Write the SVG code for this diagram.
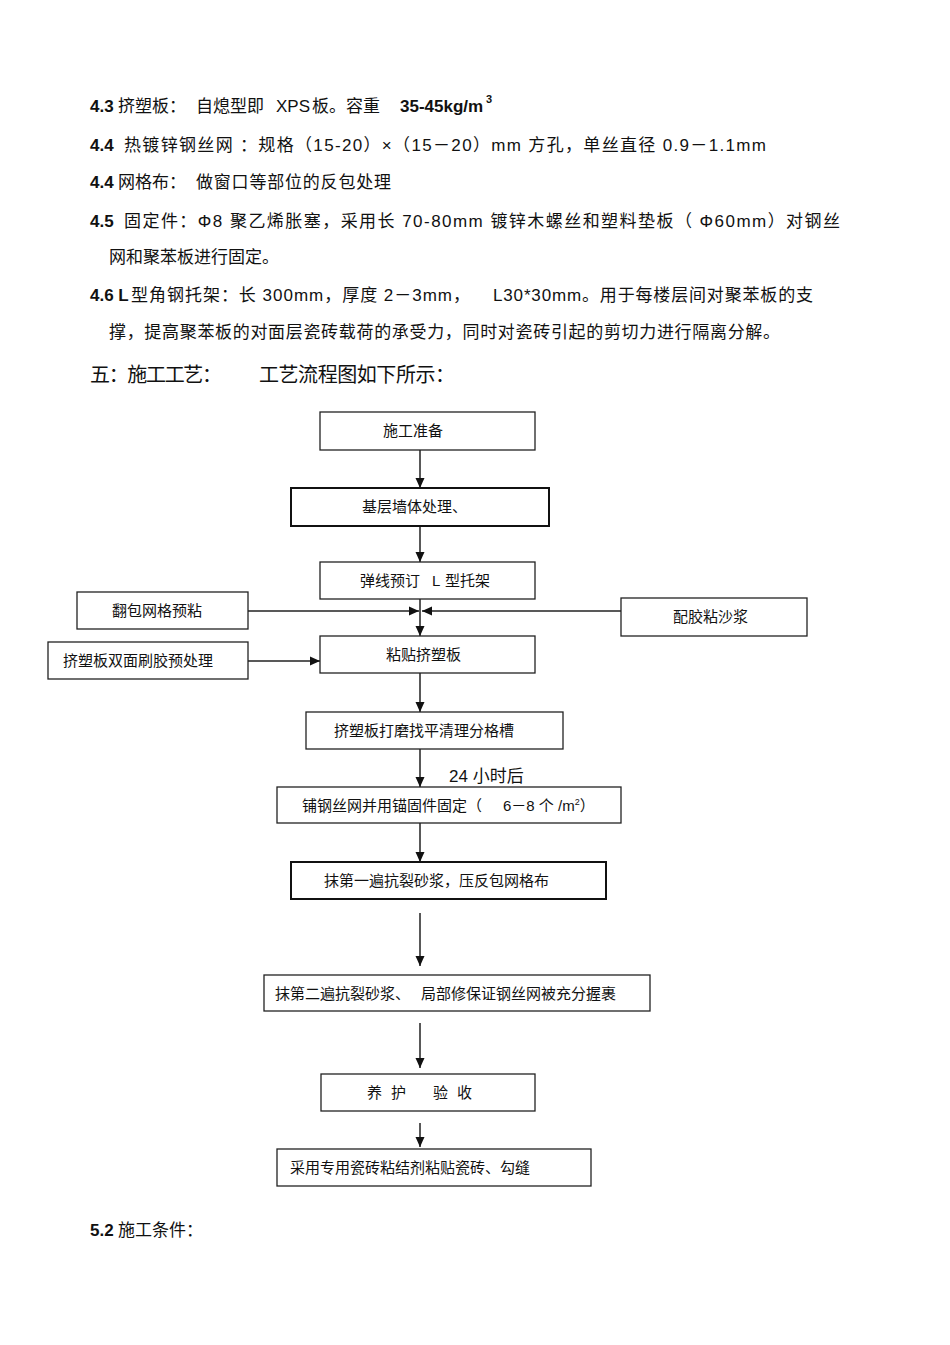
<svg xmlns="http://www.w3.org/2000/svg" width="950" height="1345" viewBox="0 0 950 1345">
<style>
.t{font-family:"Liberation Sans","Noto Sans CJK SC",sans-serif;font-size:17px;fill:#111}
.b{font-weight:bold}
.h{font-family:"Liberation Sans","Noto Sans CJK SC",sans-serif;font-size:20px;fill:#111}
.n{font-family:"Liberation Sans","Noto Sans CJK SC",sans-serif;font-size:15px;fill:#111}
.box{fill:#fff;stroke:#222;stroke-width:1.3}
.bx{fill:#fff;stroke:#111;stroke-width:2}
.c{stroke:#222;stroke-width:1.5;fill:none;marker-end:url(#ah)}
</style>
<defs>
<marker id="ah" markerUnits="userSpaceOnUse" markerWidth="10" markerHeight="10" viewBox="0 0 10 10" refX="10" refY="5" orient="auto">
<path d="M0,0.5 L10,5 L0,9.5 Z" fill="#111"/>
</marker>
</defs>
<rect width="950" height="1345" fill="#fff"/>

<g id="text-body">
<text class="t" y="112"><tspan x="90" class="b">4.3</tspan><tspan x="118">挤塑板：</tspan><tspan x="196">自熄型即</tspan><tspan x="276">XPS</tspan><tspan x="312">板。容重</tspan><tspan x="400" class="b">35-45kg/m</tspan><tspan x="486" y="103" class="b" font-size="11">3</tspan></text>
<text class="t" y="151"><tspan x="90" class="b">4.4</tspan><tspan x="124" textLength="642">热镀锌钢丝网 ：规格（15-20）×（15－20）mm 方孔，单丝直径  0.9－1.1mm</tspan></text>
<text class="t" y="188"><tspan x="90" class="b">4.4</tspan><tspan x="118">网格布：</tspan><tspan x="196" textLength="195">做窗口等部位的反包处理</tspan></text>
<text class="t" y="227"><tspan x="90" class="b">4.5</tspan><tspan x="124" textLength="716">固定件：Φ8 聚乙烯胀塞，采用长  70-80mm 镀锌木螺丝和塑料垫板（ Φ60mm）对钢丝</tspan></text>
<text class="t" x="109" y="263">网和聚苯板进行固定。</text>
<text class="t" y="301"><tspan x="90" class="b">4.6 L</tspan><tspan x="131" textLength="339">型角钢托架：长 300mm，厚度  2－3mm，</tspan><tspan x="493" textLength="320">L30*30mm。用于每楼层间对聚苯板的支</tspan></text>
<text class="t" x="109" y="338" textLength="671">撑，提高聚苯板的对面层瓷砖载荷的承受力，同时对瓷砖引起的剪切力进行隔离分解。</text>
<text class="h" y="382"><tspan x="90" textLength="132">五：施工工艺：</tspan><tspan x="259" textLength="196">工艺流程图如下所示：</tspan></text>
<text class="t" y="1236"><tspan x="90" class="b">5.2</tspan><tspan x="118">施工条件：</tspan></text>
</g>

<g id="connectors">
<line class="c" x1="420" y1="450" x2="420" y2="488"/>
<line class="c" x1="420" y1="526" x2="420" y2="562"/>
<line class="c" x1="420" y1="599" x2="420" y2="636"/>
<line class="c" x1="248" y1="611" x2="419" y2="611"/>
<line class="c" x1="621" y1="611" x2="422" y2="611"/>
<line class="c" x1="248" y1="661" x2="320" y2="661"/>
<line class="c" x1="420" y1="673" x2="420" y2="712"/>
<line class="c" x1="420" y1="749" x2="420" y2="787"/>
<line class="c" x1="420" y1="823" x2="420" y2="862"/>
<line class="c" x1="420" y1="913" x2="420" y2="966"/>
<line class="c" x1="420" y1="1023" x2="420" y2="1068"/>
<line class="c" x1="420" y1="1123" x2="420" y2="1147"/>
<text class="t" x="449" y="782" font-size="20">24 小时后</text>
</g>

<g id="n1"><rect class="box" x="320" y="412" width="215" height="38"/><text class="n" x="383" y="436">施工准备</text></g>
<g id="n2"><rect class="bx" x="291" y="488" width="258" height="38"/><text class="n" x="362" y="512">基层墙体处理、</text></g>
<g id="n3"><rect class="box" x="320" y="562" width="215" height="37"/><text class="n" x="360" y="586">弹线预订<tspan x="432">L</tspan><tspan x="445">型托架</tspan></text></g>
<g id="n4"><rect class="box" x="77" y="592" width="171" height="37"/><text class="n" x="112" y="616">翻包网格预粘</text></g>
<g id="n5"><rect class="box" x="621" y="598" width="186" height="38"/><text class="n" x="673" y="622">配胶粘沙浆</text></g>
<g id="n6"><rect class="box" x="320" y="636" width="215" height="37"/><text class="n" x="386" y="660">粘贴挤塑板</text></g>
<g id="n7"><rect class="box" x="48" y="642" width="200" height="37"/><text class="n" x="63" y="666">挤塑板双面刷胶预处理</text></g>
<g id="n8"><rect class="box" x="306" y="712" width="257" height="37"/><text class="n" x="334" y="736">挤塑板打磨找平清理分格槽</text></g>
<g id="n9"><rect class="box" x="277" y="787" width="344" height="36"/><text class="n" x="302" y="811">铺钢丝网并用锚固件固定（<tspan x="503">6－8 个 /m</tspan><tspan dy="-6" font-size="9">2</tspan><tspan dy="6">）</tspan></text></g>
<g id="n10"><rect class="bx" x="291" y="862" width="315" height="37"/><text class="n" x="324" y="886">抹第一遍抗裂砂浆，压反包网格布</text></g>
<g id="n11"><rect class="box" x="264" y="975" width="386" height="36"/><text class="n" x="275" y="999">抹第二遍抗裂砂浆、<tspan x="421">局部修保证钢丝网被充分握裹</tspan></text></g>
<g id="n12"><rect class="box" x="321" y="1074" width="214" height="37"/><text class="n" x="367" y="1098">养<tspan x="391">护</tspan><tspan x="433">验</tspan><tspan x="457">收</tspan></text></g>
<g id="n13"><rect class="box" x="277" y="1149" width="314" height="37"/><text class="n" x="290" y="1173">采用专用瓷砖粘结剂粘贴瓷砖、勾缝</text></g>
</svg>
